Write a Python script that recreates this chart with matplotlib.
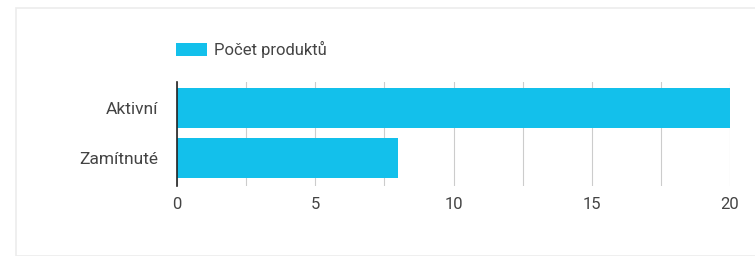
import matplotlib.pyplot as plt
from matplotlib.patches import Rectangle
import numpy as np

plt.rcParams['font.family'] = ['Roboto', 'DejaVu Sans']

# data
categories = ['Aktivní', 'Zamítnuté']
values = [20, 8]
series_name = 'Počet produktů'
x_ticks = [0, 5, 10, 15, 20]

bar_color = '#13c0eb'
text_color = '#444444'

fig = plt.figure(figsize=(7.55, 2.56), dpi=100)
fig.patch.set_facecolor('white')

# card border
fig.patches.append(Rectangle((16 / 755, 0), 1.0, 1 - 8 / 256, transform=fig.transFigure,
                             facecolor='none', edgecolor='#ececec', linewidth=1.2, zorder=0))

ax = fig.add_axes([177 / 755, 1 - 186 / 256, 553 / 755, 104 / 256])

y = np.arange(len(categories))
ax.barh(y, values, height=0.8, color=bar_color, label=series_name, zorder=3)

ax.set_xlim(0, 20)
ax.set_ylim(1.55, -0.52)
ax.set_yticks(y)
ax.set_yticklabels(categories, fontsize=12.5, color=text_color)
ax.set_xticks(x_ticks)
ax.set_xticklabels([str(t) for t in x_ticks], fontsize=12, color=text_color)
ax.set_xticks(np.arange(0, 20.1, 2.5), minor=True)
ax.grid(axis='x', which='both', color='#cccccc', linewidth=0.8, zorder=0)
ax.tick_params(axis='both', which='both', length=0)
ax.tick_params(axis='x', pad=8)
ax.tick_params(axis='y', pad=13.5)

for side in ['top', 'right', 'bottom']:
    ax.spines[side].set_visible(False)
ax.spines['left'].set_color('#222222')
ax.spines['left'].set_linewidth(1.2)
ax.spines['left'].set_zorder(4)

leg = ax.legend(loc='lower left', bbox_to_anchor=(176 / 755, 1 - 58 / 256),
                bbox_transform=fig.transFigure, frameon=False, fontsize=12,
                handlelength=1.85, handleheight=0.85, handletextpad=0.4,
                borderpad=0, borderaxespad=0)
for t in leg.get_texts():
    t.set_color(text_color)

fig.savefig('out.png', dpi=100)
